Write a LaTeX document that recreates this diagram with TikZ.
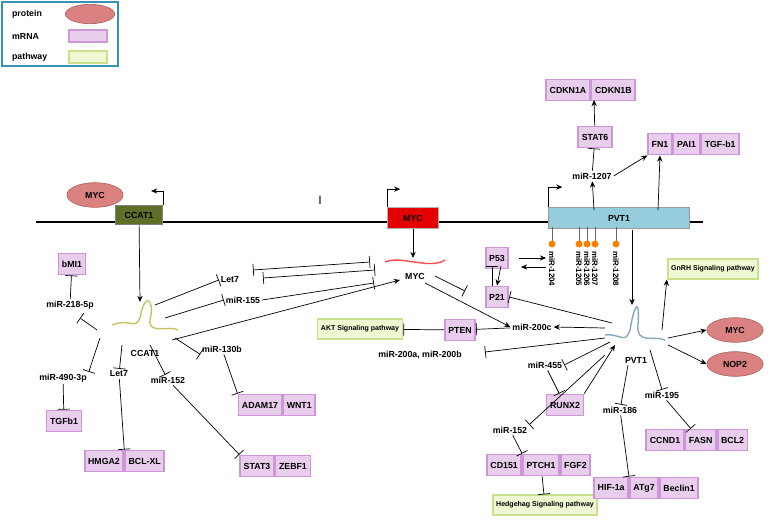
\documentclass[tikz,border=0pt]{standalone}
\usepackage{fontspec}
\setmainfont{Liberation Sans}
\usetikzlibrary{arrows.meta,shapes,calc}
\definecolor{mpink}{RGB}{232,205,236}
\definecolor{mline}{RGB}{205,150,215}
\definecolor{pfill}{RGB}{218,130,130}
\definecolor{gfill}{RGB}{238,248,210}
\definecolor{gline}{RGB}{200,225,140}
\definecolor{bar}{RGB}{150,205,220}
\definecolor{ccatg}{RGB}{94,112,40}
\begin{document}
\begin{tikzpicture}[x=0.02cm,y=-0.02cm,font=\fontsize{5}{6}\selectfont\bfseries]
            \tikzset{mrna/.style = {draw=mline,fill=mpink,line width=1pt,minimum height=12pt,inner sep=2pt}}
            \tikzset{prot/.style = {ellipse,draw=pfill!80!black,fill=pfill,minimum width=32pt,minimum height=14pt,inner sep=0pt}}
            \tikzset{path/.style = {draw=gline,fill=gfill,line width=1pt,minimum height=11pt,inner sep=2pt,font=\fontsize{4}{5}\selectfont\bfseries}}
            \tikzset{lbl/.style = {inner sep=1pt}}
            \tikzset{act/.style = {-{Stealth[length=3.5pt,width=3pt]},thin}}
            \tikzset{inh/.style = {-{Bar[width=7pt]},thin}}
            \useasboundingbox (0,0) rectangle (777,520);
            
            % legend
            \draw[draw=cyan!70!black,line width=1pt] (2,2) rectangle (118,66);
            \node[lbl,anchor=west] (lp) at (10,14) {protein};
            \node[lbl,anchor=west] (lm) at (10,36) {mRNA};
            \node[lbl,anchor=west] (lw) at (10,57) {pathway};
            \node[prot,minimum width=28pt,minimum height=11pt] (kp) at (90,14) {};
            \node[mrna,minimum width=22pt,minimum height=7pt] (km) at (88,36) {};
            \node[path,minimum width=22pt,minimum height=7pt] (kw) at (88,57) {};
            
            % genome
            \draw[thick] (36,222) -- (703,222);
            \node[draw=black!50,fill=ccatg,minimum width=27pt,minimum height=11pt,text=black] (ccatg) at (139,215) {CCAT1};
            \node[prot] (mycp) at (95,195) {MYC};
            \draw[act] (ccatg.north east) -- ++(0,-14) -- ++(-12,0);
            \node[lbl] (sep) at (320,200) {|};
            \node[draw=black!30,fill=red!90!black,minimum width=29pt,minimum height=12pt] (mycg) at (413,218) {MYC};
            \draw[act] (mycg.north west) -- ++(0,-18) -- ++(13,0);
            \node[draw=black!40,fill=bar,minimum width=80pt,minimum height=12pt] (pvtg) at (619,218) {PVT1};
            \draw[act] (pvtg.north west) -- ++(0,-20) -- ++(14,0);
            
            % lollipops
            \foreach \x/\m in {552/1204,579/1205,587/1206,595/1207,616/1208}
            {
              \draw[black!60] (\x,227) -- (\x,241);
              \fill[orange] (\x,244) circle (3.5);
              \node[lbl,rotate=-90,anchor=west,font=\fontsize{4.5}{5}\selectfont\bfseries] (m\m) at (\x,249) {miR-\m};
            }
            
            % CCAT1 side
            \coordinate (cc) at (145,315);
            \draw[olive!50,thick] (112,325) .. controls (130,318) and (135,330) .. (140,318) .. controls (145,290) and (155,300) .. (150,320) .. controls (148,335) and (170,325) .. (178,330);
            \node[lbl] (ccatt) at (145,353) {CCAT1};
            \node[mrna] (bmi) at (72,264) {bMI1};
            \node[lbl] (m218) at (70,305) {miR-218-5p};
            \node[lbl] (m490) at (63,378) {miR-490-3p};
            \node[mrna] (tgfb) at (64,421) {TGFb1};
            \node[lbl] (let7a) at (119,374) {Let7};
            \node[mrna] (hmga) at (104,461) {HMGA2};
            \node[mrna,anchor=west] (bcl) at (hmga.east) {BCL-XL};
            \node[lbl] (m152a) at (168,380) {miR-152};
            \node[mrna] (stat3) at (257,466) {STAT3};
            \node[mrna,anchor=west] (zeb) at (stat3.east) {ZEBF1};
            \node[lbl] (m130) at (222,349) {miR-130b};
            \node[mrna] (adam) at (260,405) {ADAM17};
            \node[mrna,anchor=west] (wnt) at (adam.east) {WNT1};
            \node[lbl] (let7b) at (230,280) {Let7};
            \node[lbl] (m155) at (243,300) {miR-155};
            
            \draw[act] (ccatg) -- (140,302);
            \draw[inh] (97,330) -- (80,318);
            \draw[inh] (m218) -- (bmi);
            \draw[inh] (100,338) -- (m490.north east);
            \draw[inh] (m490) -- (tgfb);
            \draw[inh] (122,345) -- (let7a);
            \draw[inh] (let7a) -- (hmga.north east);
            \draw[inh] (150,345) -- (m152a);
            \draw[inh] (m152a) -- (stat3.north west);
            \draw[inh] (175,338) -- (m130.south west);
            \draw[inh] (m130) -- (adam.north west);
            \draw[inh] (155,305) -- (let7b.west);
            \draw[inh] (165,318) -- (m155.west);
            \draw[{Bar[width=7pt]}-{Bar[width=7pt]},thin] (253,270) -- (370,262);
            \draw[{Bar[width=7pt]}-{Bar[width=7pt]},thin] (263,278) -- (375,270);
            \draw[inh] (m155.east) -- (374,283);
            \draw[act] (172,340) -- (400,280);
            
            % MYC side
            \draw[red!70,thick] (385,262) .. controls (400,255) and (430,270) .. (445,260);
            \node[lbl] (mycm) at (415,276) {MYC};
            \node[mrna] (p53) at (497,258) {P53};
            \node[mrna] (p21) at (497,297) {P21};
            \node[lbl] (m200c) at (532,327) {miR-200c};
            \node[mrna] (pten) at (460,330) {PTEN};
            \node[path] (akt) at (360,329) {AKT Signaling pathway};
            \node[lbl] (m200ab) at (420,355) {miR-200a, miR-200b};
            \draw[act] (mycg) -- (413,258);
            \draw[inh] (mycm.east) ++(8,0) -- (465,291);
            \draw[act] (425,283) -- (m200c.west);
            \draw[act] (p53.east) ++(10,0) -- (546,258);
            \draw[act] (546,267) -- (521,267);
            \draw[act] (501,266) -- (p21.north);
            \draw[inh] (492,286) -- (492,266);
            \draw[inh] (m200c) -- (pten);
            \draw[inh] (pten) -- (akt);
            
            % PVT1 side
            \draw[cyan!50!black!60,thick] (605,335) .. controls (620,333) and (625,345) .. (630,330) .. controls (635,300) and (640,300) .. (638,325) .. controls (636,345) and (655,335) .. (665,340);
            \node[lbl] (pvtt) at (636,360) {PVT1};
            \node[path] (gnrh) at (713,269) {GnRH Signaling pathway};
            \node[prot] (mycr) at (735,330) {MYC};
            \node[prot] (nop2) at (735,364) {NOP2};
            \node[lbl] (m455) at (545,365) {miR-455};
            \node[mrna] (runx) at (565,405) {RUNX2};
            \node[lbl] (m195) at (662,395) {miR-195};
            \node[mrna] (ccnd) at (665,440) {CCND1};
            \node[mrna,anchor=west] (fasn) at (ccnd.east) {FASN};
            \node[mrna,anchor=west] (bcl2) at (fasn.east) {BCL2};
            \node[lbl] (m152b) at (510,430) {miR-152};
            \node[mrna] (ptch) at (541,465) {PTCH1};
            \node[mrna,anchor=east] (cd151) at (ptch.west) {CD151};
            \node[mrna,anchor=west] (fgf) at (ptch.east) {FGF2};
            \node[path] (hedge) at (545,505) {Hedgehag Signaling pathway};
            \node[lbl] (m186) at (620,410) {miR-186};
            \node[mrna] (atg) at (644,488) {ATg7};
            \node[mrna,anchor=east] (hif) at (atg.west) {HIF-1a};
            \node[mrna,anchor=west] (becl) at (atg.east) {Beclin1};
            \draw[act] (632,230) -- (632,305);
            \draw[inh] (612,323) -- (p21.east);
            \draw[act] (605,328) -- (m200c.east);
            \draw[inh] (605,338) -- (485,352);
            \draw[inh] (610,342) -- (m455.east);
            \draw[inh] (m455) -- (runx);
            \draw[act] (runx.north east) -- (615,345);
            \draw[act] (662,330) -- (gnrh.south west);
            \draw[act] (668,338) -- (mycr.west);
            \draw[act] (668,345) -- (nop2.west);
            \draw[inh] (650,350) -- (m195.north);
            \draw[inh] (m195) -- (fasn);
            \draw[inh] (628,365) -- (m186);
            \draw[inh] (m186) -- (atg.north west);
            \draw[inh] (605,355) -- (m152b.north east);
            \draw[inh] (m152b) -- (ptch.north west);
            \draw[inh] (ptch) -- (hedge);
            
            % top
            \node[lbl] (m1207) at (592,176) {miR-1207};
            \node[mrna] (stat6) at (595,137) {STAT6};
            \node[mrna] (cdka) at (568,90) {CDKN1A};
            \node[mrna,anchor=west] (cdkb) at (cdka.east) {CDKN1B};
            \node[mrna] (fn1) at (660,144) {FN1};
            \node[mrna,anchor=west] (pai) at (fn1.east) {PAI1};
            \node[mrna,anchor=west] (tgfb1) at (pai.east) {TGF-b1};
            \draw[act] (594,210) -- (m1207);
            \draw[inh] (m1207) -- (stat6);
            \draw[act] (stat6) -- (594,100);
            \draw[act] (m1207.east) -- (fn1.south west);
            \draw[act] (658,210) -- (fn1.south);
            
          \end{tikzpicture}
\end{document}
